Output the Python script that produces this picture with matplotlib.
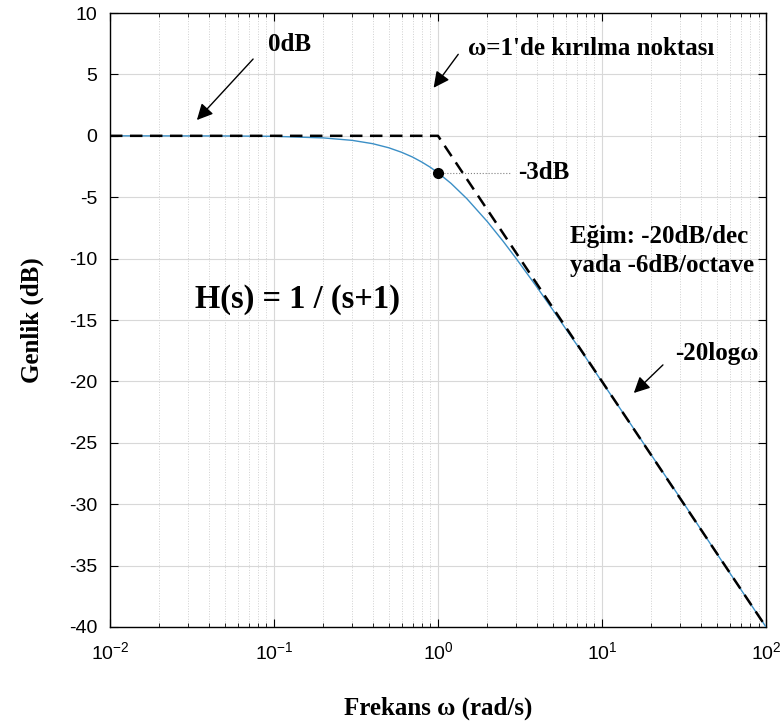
import numpy as np
import matplotlib.pyplot as plt
from matplotlib.ticker import LogLocator, NullFormatter

plt.rcParams['mathtext.default'] = 'regular'
plt.rcParams['axes.unicode_minus'] = False

# genlik egrisi
w = [0.01, 0.05, 0.1, 0.2, 0.3, 0.4, 0.5, 0.6, 0.7, 0.8, 0.9, 1.0, 1.2, 1.5,
     2, 2.5, 3, 4, 5, 6, 8, 10, 15, 20, 30, 50, 100]
mag = [0, -0.01, -0.04, -0.17, -0.37, -0.64, -0.97, -1.34, -1.73, -2.15, -2.57,
       -3.01, -3.87, -5.12, -6.99, -8.60, -10.0, -12.3, -14.15, -15.7, -18.1,
       -20.04, -23.5, -26.0, -29.5, -34.0, -40.0]

# asimptot
w_asim = [0.01, 1, 100]
mag_asim = [0, 0, -40]

# -3dB noktasi
w_kes = 1.0
mag_kes = -3.0

yticks = [10, 5, 0, -5, -10, -15, -20, -25, -30, -35, -40]

fig = plt.figure(figsize=(7.81, 7.24), dpi=100)
ax = fig.add_axes([0.1408, 0.134, 0.840, 0.848])

ax.semilogx(w, mag, color='#3b8fc6', lw=1.0, zorder=3)
ax.semilogx(w_asim, mag_asim, color='black', ls=(0, (5, 3)), lw=1.8, zorder=4)
ax.plot(w_kes, mag_kes, 'o', color='black', ms=7, zorder=5)
ax.plot([w_kes, 2.75], [mag_kes, mag_kes], color='gray', lw=0.8, ls=':', zorder=2)

ax.set_xlim(1e-2, 1e2)
ax.set_ylim(-40, 10)
ax.set_yticks(yticks)
ax.xaxis.set_major_locator(LogLocator(base=10, numticks=10))
ax.xaxis.set_minor_locator(LogLocator(base=10, subs=np.arange(2, 10), numticks=10))
ax.xaxis.set_minor_formatter(NullFormatter())

ax.grid(True, which='major', color='#d8d8d8', lw=0.8, ls='-')
ax.grid(True, which='minor', axis='x', color='#d0d0d0', lw=0.7, ls=':')
ax.tick_params(which='both', direction='in', top=True, right=True)
ax.tick_params(which='major', length=6, labelsize=14)
ax.tick_params(axis='x', which='major', pad=10)
ax.tick_params(axis='y', which='major', pad=9)
ax.tick_params(which='minor', length=3)
for lab in ax.get_xticklabels() + ax.get_yticklabels():
    lab.set_fontfamily('Liberation Sans')
for s in ax.spines.values():
    s.set_linewidth(1.0)

serif = dict(family='Liberation Serif', weight='bold')

ax.set_ylabel('Genlik (dB)', fontsize=18, labelpad=18, **serif)
ax.set_xlabel('Frekans ω (rad/s)', fontsize=18, labelpad=24, **serif)

ok = dict(arrowstyle='-|>', color='black', lw=1.0, mutation_scale=24)

ax.text(0.125, 7.4, '0dB', fontsize=18, va='center', ha='center', **serif)
ax.annotate('', xy=(0.033, 1.12), xytext=(0.0766, 6.42), arrowprops=ok)

ax.text(1.52, 7.15, "ω=1'de kırılma noktası", fontsize=18, va='center', ha='left', **serif)
ax.annotate('', xy=(0.919, 3.73), xytext=(1.36, 6.82), arrowprops=ok)

ax.text(3.07, -3.0, '-3dB', fontsize=18, va='center', ha='left', **serif)

ax.text(6.38, -9.38, 'Eğim: -20dB/dec\nyada -6dB/octave', fontsize=18,
        va='center', ha='left', linespacing=1.3, **serif)

ax.text(0.033, -13.37, 'H(s) = 1 / (s+1)', fontsize=23.5, va='center', ha='left', **serif)

ax.text(27.9, -17.7, '-20logω', fontsize=18, va='center', ha='left', **serif)
ax.annotate('', xy=(15.2, -21.1), xytext=(24.2, -18.5), arrowprops=ok)

fig.savefig('out.png', dpi=100)
